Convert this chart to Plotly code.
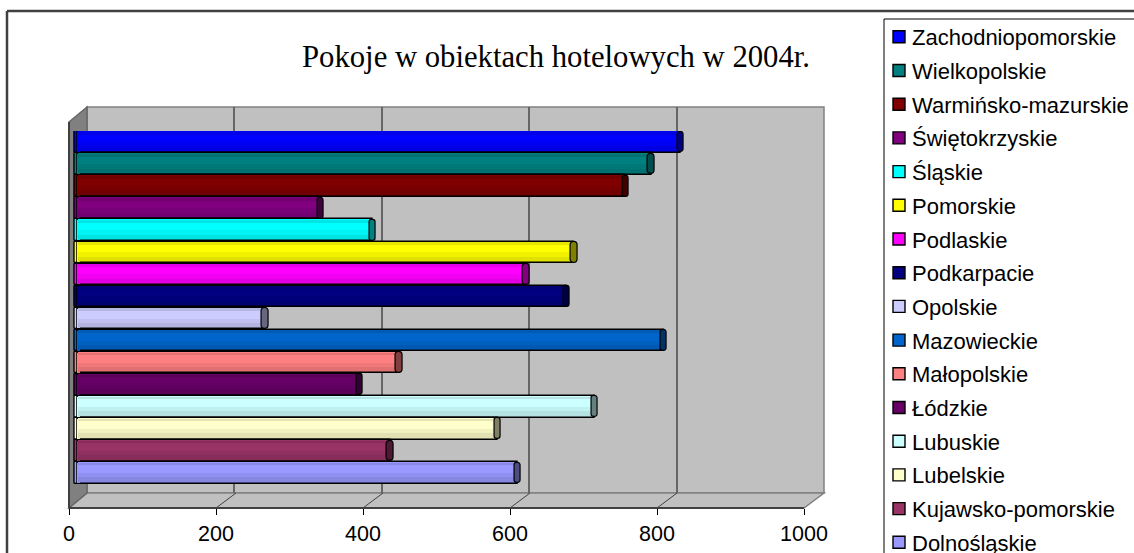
import plotly.graph_objs as go

# Pokoje w obiektach hotelowych
provinces = ['Zachodniopomorskie', 'Wielkopolskie', 'Warmińsko-mazurskie', 'Świętokrzyskie',
             'Śląskie', 'Pomorskie', 'Podlaskie', 'Podkarpacie', 'Opolskie', 'Mazowieckie',
             'Małopolskie', 'Łódzkie', 'Lubuskie', 'Lubelskie', 'Kujawsko-pomorskie', 'Dolnośląskie']
rooms = [820, 780, 745, 330, 401, 675, 610, 665, 255, 797, 437, 383, 703, 571, 425, 598]
colors = ['#0000FF', '#008080', '#800000', '#800080', '#00FFFF', '#FFFF00', '#FF00FF', '#000080',
          '#CCCCFF', '#0066CC', '#FF8080', '#660066', '#CCFFFF', '#FFFFCC', '#993366', '#9999FF']
cap_colors = ['#000080', '#004D4D', '#400000', '#400040', '#008080', '#808000', '#800080', '#000040',
              '#666680', '#003366', '#804040', '#330033', '#668080', '#808066', '#4D1A33', '#4D4D80']
tick_vals = [0, 200, 400, 600, 800, 1000]

W, H = 1134, 553


def px(x):
    return x / W


def py(y):
    return 1 - y / H


def line(x0, y0, x1, y1, color, width):
    return dict(type='line', xref='paper', yref='paper', layer='below',
                x0=px(x0), y0=py(y0), x1=px(x1), y1=py(y1),
                line=dict(color=color, width=width))


def poly(points, fill, edge):
    path = 'M' + ' L'.join('%.5f,%.5f' % (px(a), py(b)) for a, b in points) + ' Z'
    return dict(type='path', xref='paper', yref='paper', layer='below', path=path,
                fillcolor=fill, line=dict(color=edge, width=1.5))


fig = go.Figure()

# empty traces so the wall grid axis and the tick axis get drawn (these go under the bars)
fig.add_trace(go.Scatter(x=[0, 1000], y=[0, 1], mode='none', xaxis='x', yaxis='y', showlegend=False))
fig.add_trace(go.Scatter(x=[0, 1000], y=[0, 1], mode='none', xaxis='x2', yaxis='y2', showlegend=False))

# one bar per province, so each gets a legend entry
for name, val, col in zip(provinces, rooms, colors):
    fig.add_trace(go.Bar(y=[name], x=[val], name=name, orientation='h', width=0.98, xaxis='x3', yaxis='y3',
                         legendgroup=name, marker=dict(color=col, line=dict(color='black', width=1.4))))

# rounded left end of the tubes
fig.add_trace(go.Bar(y=provinces, x=[-4] * 16, orientation='h', width=0.98, showlegend=False,
                     xaxis='x3', yaxis='y3',
                     marker=dict(color=colors, cornerradius=4, line=dict(color='black', width=1.4))))
# hides the seam between the left end and the tube
fig.add_trace(go.Bar(y=provinces, x=[4] * 16, base=[-2] * 16, orientation='h', width=0.9, showlegend=False,
                     xaxis='x3', yaxis='y3', marker=dict(color=colors, line=dict(width=0))))

# shading bands, gives the cylinder look
for off, wid, op in [(-0.46, 0.12, 0.10), (0.0, 0.46, 0.05), (0.2, 0.26, 0.06)]:
    fig.add_trace(go.Bar(y=provinces, x=rooms, orientation='h', offset=off, width=wid,
                         showlegend=False, opacity=op, xaxis='x3', yaxis='y3',
                         marker=dict(color='black', line=dict(width=0))))

# dark end cap
fig.add_trace(go.Bar(y=provinces, x=[9] * 16, base=[v - 4.5 for v in rooms], orientation='h', width=0.94,
                     showlegend=False, xaxis='x3', yaxis='y3',
                     marker=dict(color=cap_colors, cornerradius=4, line=dict(color='black', width=1.2))))

shapes = [
    # frame and legend box, both run off the picture
    line(7, 11, W, 11, '#404040', 2.5),
    line(7, 11, 7, H, '#404040', 2.5),
    line(884, 19, W, 19, 'black', 1),
    line(884, 19, 884, H, 'black', 1),
    # 3d box
    poly([(87, 107), (824, 107), (824, 493), (87, 493)], '#C0C0C0', '#808080'),
    poly([(69, 508), (87, 493), (824, 493), (804, 508)], '#C0C0C0', '#808080'),
    poly([(69, 122), (87, 107), (87, 493), (69, 508)], '#808080', '#666666'),
    line(69, 122, 69, 508, '#404040', 2),
]
for t in tick_vals[1:-1]:
    fx = 69 + t * 0.735
    shapes.append(line(fx, 508, fx + 20, 493, '#404040', 1))

fig.update_layout(
    width=W, height=H, barmode='overlay', bargap=0,
    margin=dict(l=0, r=0, t=0, b=0, autoexpand=False),
    paper_bgcolor='white', plot_bgcolor='rgba(0,0,0,0)',
    font=dict(family='Liberation Sans', color='black'),
    title=dict(text='Pokoje w obiektach hotelowych w 2004r.', x=px(556), y=py(56), xanchor='center',
               yanchor='middle', font=dict(family='Liberation Serif', size=30.7, color='black')),
    shapes=shapes,
    legend=dict(x=px(879), y=py(16), xanchor='left', yanchor='top', tracegroupgap=2.1,
                bgcolor='rgba(0,0,0,0)', font=dict(size=22), itemclick=False, itemdoubleclick=False),
    # back wall grid
    xaxis=dict(domain=[px(87), px(824)], range=[0, 1000], anchor='y', tickvals=tick_vals,
               showgrid=True, gridcolor='#666666', gridwidth=2, zeroline=False, ticks='',
               showticklabels=False, showline=False),
    yaxis=dict(domain=[py(493), py(107)], visible=False),
    # front edge with the tick labels
    xaxis2=dict(domain=[px(69), px(804)], range=[0, 1000], anchor='free', position=py(508),
                tickvals=tick_vals, ticks='outside', ticklen=6, tickcolor='black', showgrid=False,
                zeroline=False, showline=True, linecolor='#404040', linewidth=2,
                tickfont=dict(size=21.5, color='black')),
    yaxis2=dict(domain=[py(508), py(122)], visible=False),
    # the bars stand half way into the box
    xaxis3=dict(domain=[px(70.65), px(813)], range=[-10, 1000], anchor='y3', visible=False),
    yaxis3=dict(domain=[py(484), py(131)], categoryorder='array', categoryarray=provinces,
                autorange='reversed', visible=False),
)

# legend text sits closer to the swatch in the original
post = """document.body.style.margin='0';document.body.style.overflow='hidden';
document.querySelectorAll('.legendtext').forEach(function (t) { t.setAttribute('x', 33); });"""
fig.write_html('out.html', config=dict(displayModeBar=False), post_script=post)
